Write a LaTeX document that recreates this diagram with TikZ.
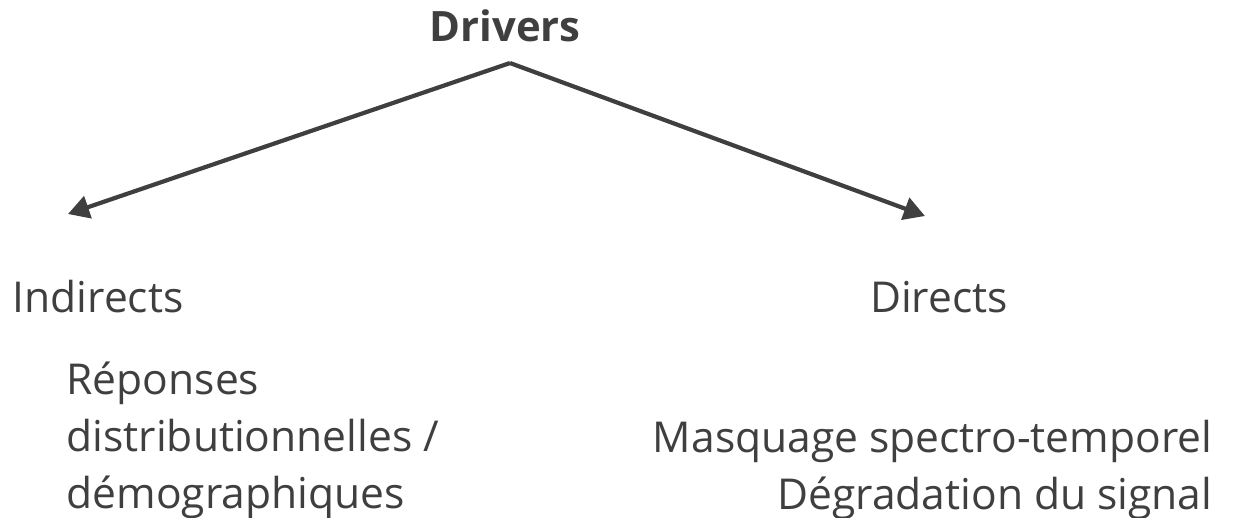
\documentclass[tikz,border=0pt]{standalone}
\usepackage{fontspec}
\setmainfont{Open Sans}
\usetikzlibrary{arrows.meta}
\definecolor{inkgray}{HTML}{3F3F3F}

\begin{document}
\begin{tikzpicture}[x=0.01cm,y=-0.01cm]
    \tikzstyle{every node}+=[inner sep=0pt, text=inkgray]
    \tikzstyle{label}=[font=\fontsize{12.1}{16.3}\selectfont]
    \tikzstyle{branch}=[draw=inkgray, line width=1.2pt, -{Triangle[length=6pt,width=6.5pt]}]
    \useasboundingbox (0,0) rectangle (1233,517);
    \node [font=\fontsize{11.9}{16.3}\selectfont\bfseries] (drivers) at (505,26) {Drivers};
    \coordinate (apex) at (510,63);
    \coordinate (lefttip) at (68,214);
    \coordinate (righttip) at (925,216);
    \draw [branch] (apex) -- (lefttip);
    \draw [branch] (apex) -- (righttip);
    \node [label, anchor=west] (indirects) at (12,297) {Indirects};
    \node [label, anchor=center] (directs) at (939,297) {Directs};
    \node [label, anchor=north west, align=left] (indirectlist) at (66,361)
        {Réponses\\distributionnelles /\\démographiques};
    \node [label, anchor=north east, align=right] (directlist) at (1213,419)
        {Masquage spectro-temporel\\Dégradation du signal};
\end{tikzpicture}
\end{document}
